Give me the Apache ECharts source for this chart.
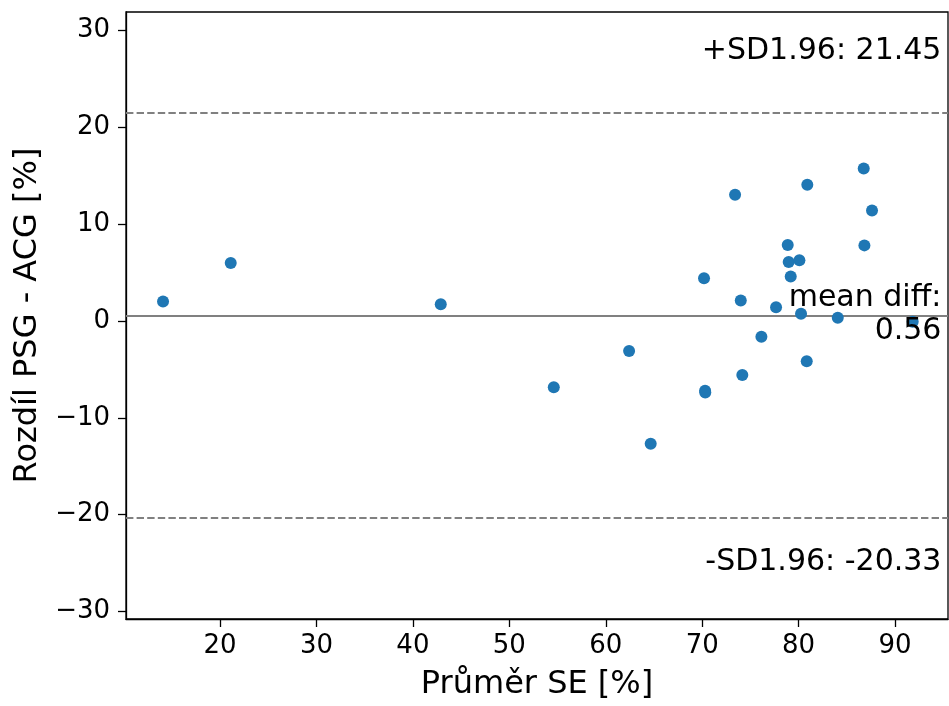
<!DOCTYPE html>
<html>
<head>
<meta charset="utf-8">
<script src="https://cdn.jsdelivr.net/npm/echarts@6/dist/echarts.min.js"></script>
<style>
html,body{margin:0;padding:0;background:#fff;}
#chart{width:949px;height:706px;}
</style>
</head>
<body>
<div id="chart"></div>
<script>
// Mean of the two methods (x) and their difference (y)
const meanSE = [14.09, 21.11, 42.89, 54.61, 62.42, 64.66, 70.19, 70.30, 70.32, 73.41, 74.00, 74.16, 76.14, 77.66, 78.87, 78.97, 79.18, 80.08, 80.25, 80.90, 80.84, 84.06, 86.75, 86.82, 87.61, 91.83];
const diffPSG = [2.01, 5.99, 1.73, -6.84, -3.11, -12.68, 4.40, -7.20, -7.40, 13.02, 2.11, -5.58, -1.63, 1.42, 7.84, 6.09, 4.58, 6.26, 0.74, 14.05, -4.17, 0.33, 15.73, 7.80, 11.40, -0.08];
const meanDiff = 0.56;
const upperLoA = 21.45;
const lowerLoA = -20.33;
const xTicks = [20, 30, 40, 50, 60, 70, 80, 90];
const yTicks = [-30, -20, -10, 0, 10, 20, 30];
const xLabel = 'Průměr SE [%]';
const yLabel = 'Rozdíl PSG - ACG [%]';

const FONT = 'DejaVu Sans';
const GRID = {left: 126, top: 12, width: 822, height: 610};
const points = meanSE.map((x, i) => [x, diffPSG[i]]);
const halfRange = 1.5 * (upperLoA - lowerLoA) / 2;
const fmt = v => (v < 0 ? '\u2212' + Math.abs(v) : String(v));

const chart = echarts.init(document.getElementById('chart'), null, {renderer: 'canvas'});
const axisCommon = {
  axisLine: {show: true, onZero: false, lineStyle: {color: '#000', width: 1.3}},
  splitLine: {show: false},
  axisLabel: {color: '#000', fontFamily: FONT, fontSize: 26, formatter: fmt},
  axisTick: {show: true, inside: false, length: 8, lineStyle: {color: '#000', width: 1.3}},
  nameTextStyle: {color: '#000', fontFamily: FONT, fontSize: 32}
};
chart.setOption({
  animation: false,
  backgroundColor: '#fff',
  grid: {left: GRID.left, top: GRID.top, width: GRID.width, height: GRID.height, show: true, borderColor: '#000', borderWidth: 1.3, backgroundColor: 'transparent'},
  xAxis: Object.assign({}, axisCommon, {
    type: 'value', min: 10.25, max: 95.49,
    name: xLabel, nameLocation: 'middle', nameGap: 50,
    axisLabel: Object.assign({}, axisCommon.axisLabel, {margin: 14, customValues: xTicks}),
    axisTick: Object.assign({}, axisCommon.axisTick, {customValues: xTicks})
  }),
  yAxis: Object.assign({}, axisCommon, {
    type: 'value', min: meanDiff - halfRange, max: meanDiff + halfRange,
    name: yLabel, nameLocation: 'middle', nameGap: 82, nameRotate: 90,
    axisLabel: Object.assign({}, axisCommon.axisLabel, {margin: 16, customValues: yTicks}),
    axisTick: Object.assign({}, axisCommon.axisTick, {customValues: yTicks})
  }),
  series: [{
    type: 'scatter',
    data: points,
    symbolSize: 12,
    itemStyle: {color: '#1f77b4', opacity: 1},
    z: 3,
    markLine: {
      silent: true,
      symbol: ['none', 'none'],
      label: {show: false},
      z: 2,
      data: [
        {yAxis: meanDiff, lineStyle: {color: '#808080', type: 'solid', width: 2}},
        {yAxis: upperLoA, lineStyle: {color: '#808080', type: [7.4, 3.2], width: 2}},
        {yAxis: lowerLoA, lineStyle: {color: '#808080', type: [7.4, 3.2], width: 2}}
      ]
    }
  }],
  graphic: [
    {type: 'text', z: 10, x: GRID.left + 0.992 * GRID.width, y: GRID.top + 0.064 * GRID.height,
     style: {text: '+SD1.96: ' + upperLoA.toFixed(2), font: '30px "DejaVu Sans"', fill: '#000', textAlign: 'right', textVerticalAlign: 'middle'}},
    {type: 'text', z: 10, x: GRID.left + 0.992 * GRID.width, y: GRID.top + 0.497 * GRID.height,
     style: {text: 'mean diff:\n' + meanDiff.toFixed(2), font: '30px "DejaVu Sans"', lineHeight: 33, fill: '#000', textAlign: 'right', textVerticalAlign: 'middle'}},
    {type: 'text', z: 10, x: GRID.left + 0.992 * GRID.width, y: GRID.top + 0.902 * GRID.height,
     style: {text: '-SD1.96: ' + lowerLoA.toFixed(2), font: '30px "DejaVu Sans"', fill: '#000', textAlign: 'right', textVerticalAlign: 'middle'}}
  ]
});
</script>
</body>
</html>
